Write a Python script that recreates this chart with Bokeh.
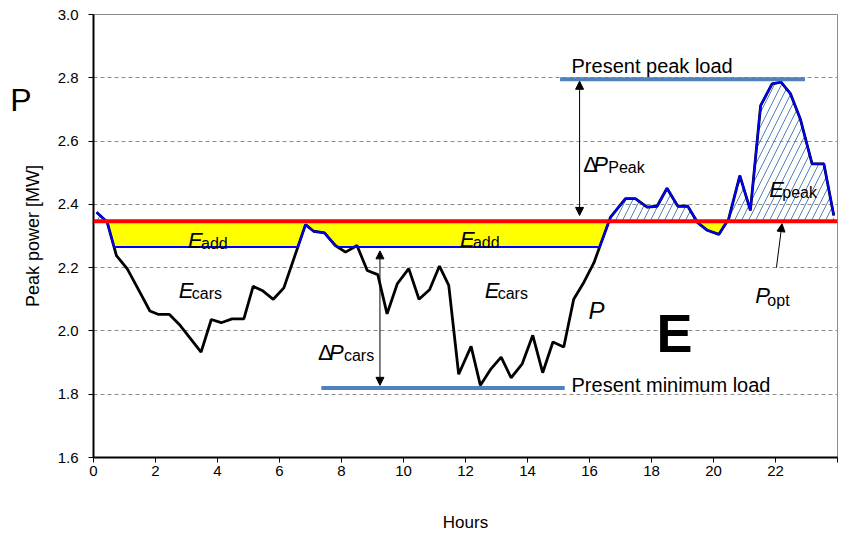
import numpy as np
from bokeh.plotting import figure
from bokeh.models import (Label, Arrow, NormalHead, FixedTicker, Span,
                          PrintfTickFormatter, LinearAxis)
from bokeh.embed import file_html
from bokeh.resources import INLINE

# ---------------- data ----------------
hours = [0.10, 0.44, 0.74, 1.09, 1.52, 1.82, 2.10, 2.45, 2.80, 3.47, 3.80, 4.12,
         4.47, 4.85, 5.15, 5.44, 5.80, 6.14, 6.84, 7.10, 7.45, 7.80, 8.13, 8.50,
         8.83, 9.17, 9.47, 9.80, 10.17, 10.50, 10.84, 11.16, 11.46, 11.78, 12.18,
         12.48, 12.83, 13.15, 13.47, 13.83, 14.17, 14.49, 14.82, 15.17, 15.49,
         15.82, 16.14, 16.68, 17.16, 17.48, 17.86, 18.18, 18.50, 18.85, 19.17,
         19.49, 19.80, 20.17, 20.49, 20.85, 21.19, 21.52, 21.89, 22.18, 22.48,
         22.80, 23.18, 23.56, 23.88]
power = [2.375, 2.344, 2.238, 2.196, 2.118, 2.063, 2.052, 2.052, 2.017, 1.933,
         2.036, 2.026, 2.038, 2.038, 2.141, 2.128, 2.100, 2.136, 2.336, 2.315,
         2.310, 2.270, 2.249, 2.270, 2.191, 2.178, 2.054, 2.149, 2.197, 2.100,
         2.130, 2.205, 2.144, 1.863, 1.951, 1.828, 1.881, 1.917, 1.852, 1.896,
         1.986, 1.868, 1.965, 1.949, 2.100, 2.154, 2.215, 2.360, 2.418, 2.418,
         2.391, 2.394, 2.451, 2.394, 2.394, 2.342, 2.318, 2.305, 2.354, 2.491,
         2.381, 2.712, 2.781, 2.786, 2.750, 2.670, 2.528, 2.528, 2.365]

p_opt = 2.347          # optimal (flat) load level
p_cars_level = 2.265   # level filled by car charging
peak_load = 2.795      # present peak load
min_load = 1.820       # present minimum load
peak_load_hours = [15.05, 22.95]
min_load_hours = [7.35, 15.20]
dp_peak_hour = 15.68
dp_cars_hour = 9.24

x_ticks = [0, 2, 4, 6, 8, 10, 12, 14, 16, 18, 20, 22, 24]
x_tick_labels = {24: ""}
y_ticks = [1.6, 1.8, 2.0, 2.2, 2.4, 2.6, 2.8, 3.0]
grid_levels = [1.8, 2.0, 2.2, 2.4, 2.6, 2.8]
big_p_level = 2.73     # vertical position of the big "P" marker left of the axis


def insert_crossings(x, y, levels):
    xs, ys = [x[0]], [y[0]]
    for i in range(1, len(x)):
        x0, y0, x1, y1 = x[i - 1], y[i - 1], x[i], y[i]
        cr = []
        for L in levels:
            if (y0 - L) * (y1 - L) < 0:
                t = (L - y0) / (y1 - y0)
                cr.append((x0 + t * (x1 - x0), L))
        cr.sort()
        for cx, cy in cr:
            xs.append(cx)
            ys.append(cy)
        xs.append(x1)
        ys.append(y1)
    return np.array(xs), np.array(ys)


xs, ys = insert_crossings(hours, power, [p_opt, p_cars_level])
blue_line = np.maximum(ys, p_cars_level)
yellow_low = np.minimum(blue_line, p_opt)
hatch_top = np.maximum(ys, p_opt)

# ---------------- figure ----------------
p = figure(width=843, height=540, x_range=(0, 24), y_range=(1.6, 3.0),
           output_backend="svg", toolbar_location=None,
           min_border_left=93, min_border_right=6, min_border_top=14,
           min_border_bottom=83)
p.background_fill_color = "white"
p.outline_line_color = "#8c8c8c"
p.outline_line_width = 1

p.xgrid.visible = False
p.ygrid.ticker = FixedTicker(ticks=grid_levels)
p.ygrid.grid_line_color = "#8c8c8c"
p.ygrid.grid_line_dash = "4 3"
p.ygrid.grid_line_width = 1

for ax in (p.xaxis, p.yaxis):
    ax.axis_line_color = "black"
    ax.axis_line_width = 2
    ax.major_tick_line_color = "black"
    ax.major_tick_out = 5
    ax.major_tick_in = 0
    ax.minor_tick_line_color = None
    ax.major_label_text_font = "Liberation Sans"
    ax.major_label_text_font_size = "15px"
    ax.major_label_text_color = "black"
    ax.axis_label_text_font = "Liberation Sans"
    ax.axis_label_text_font_style = "normal"
    ax.axis_label_text_color = "black"

p.xaxis.ticker = FixedTicker(ticks=x_ticks)
p.xaxis.major_label_overrides = x_tick_labels
p.xaxis.major_label_standoff = 3
p.xaxis.axis_label = "Hours"
p.xaxis.axis_label_text_font_size = "17px"
p.xaxis.axis_label_standoff = 34

p.yaxis.ticker = FixedTicker(ticks=y_ticks)
p.yaxis.formatter = PrintfTickFormatter(format="%.1f")
p.yaxis.major_label_standoff = 10
p.yaxis.axis_label = "Peak power [MW]"
p.yaxis.axis_label_text_font_size = "18px"
p.yaxis.axis_label_standoff = 12

# big "P" marker left of the y axis, drawn as an extra (line-less) axis label
p_axis = LinearAxis(ticker=FixedTicker(ticks=[big_p_level]),
                    major_label_overrides={big_p_level: "P"},
                    axis_line_color=None, major_tick_line_color=None,
                    minor_tick_line_color=None, major_tick_out=0, major_tick_in=0,
                    major_label_standoff=-12,
                    major_label_text_font="Liberation Sans",
                    major_label_text_font_size="32px",
                    major_label_text_color="black")
p.add_layout(p_axis, "left")

# areas
p.varea(x=xs, y1=yellow_low, y2=p_opt, fill_color="#FFFF00")
p.varea(x=xs, y1=p_opt, y2=hatch_top, fill_alpha=0,
        hatch_pattern="/", hatch_color="#4F81BD", hatch_scale=14, hatch_weight=1)

# curves
p.line(hours, power, line_color="black", line_width=2.8)
p.line(xs, blue_line, line_color="#0000FF", line_width=2)

p.add_layout(Span(location=p_opt, dimension="width", line_color="#FF0000", line_width=4))

p.line(peak_load_hours, [peak_load, peak_load], line_color="#4F81BD", line_width=4)
p.line(min_load_hours, [min_load, min_load], line_color="#4F81BD", line_width=4)

# arrows
def head():
    return NormalHead(size=8, fill_color="black", line_color="black", line_width=1)

p.add_layout(Arrow(start=head(), end=head(), x_start=dp_peak_hour, y_start=p_opt + 0.018,
                   x_end=dp_peak_hour, y_end=peak_load - 0.006, line_width=1, line_color="black"))
p.add_layout(Arrow(start=head(), end=head(), x_start=dp_cars_hour, y_start=p_cars_level - 0.012,
                   x_end=dp_cars_hour, y_end=min_load + 0.008, line_width=1, line_color="black"))
p.add_layout(Arrow(end=head(), x_start=22.03, y_start=2.20, x_end=22.21, y_end=p_opt - 0.008,
                   line_width=1, line_color="black"))


def txt(x, y, text, size, style="normal", dx=0, dy=0):
    p.add_layout(Label(x=x, y=y, text=text, x_offset=dx, y_offset=dy,
                       text_font="Liberation Sans", text_font_size=f"{size}px",
                       text_font_style=style, text_color="black",
                       text_align="left", text_baseline="alphabetic"))


txt(15.42, 2.836, "Present peak load", 20)
txt(15.42, 1.828, "Present minimum load", 20)

for (ex, ey, sub) in [(3.05, 2.286, "add"), (11.82, 2.288, "add"),
                      (2.75, 2.128, "cars"), (12.62, 2.128, "cars"),
                      (21.80, 2.446, "peak")]:
    txt(ex, ey, "E", 22, "italic")
    txt(ex, ey, sub, 16, dx=13, dy=-3)

txt(7.24, 1.932, "\u0394", 22)
txt(7.24, 1.932, "P", 22, "italic", dx=11)
txt(7.24, 1.932, "cars", 16, dx=26, dy=-3)

txt(15.80, 2.525, "\u0394", 22)
txt(15.80, 2.525, "P", 22, "italic", dx=10)
txt(15.80, 2.525, "Peak", 16, dx=25, dy=-3)

txt(21.35, 2.112, "P", 22, "italic")
txt(21.35, 2.112, "opt", 16, dx=12, dy=-5)

txt(15.97, 2.065, "P", 24, "italic")
txt(18.16, 1.992, "E", 54, "bold")

open("out.html", "w").write(file_html(p, INLINE))
